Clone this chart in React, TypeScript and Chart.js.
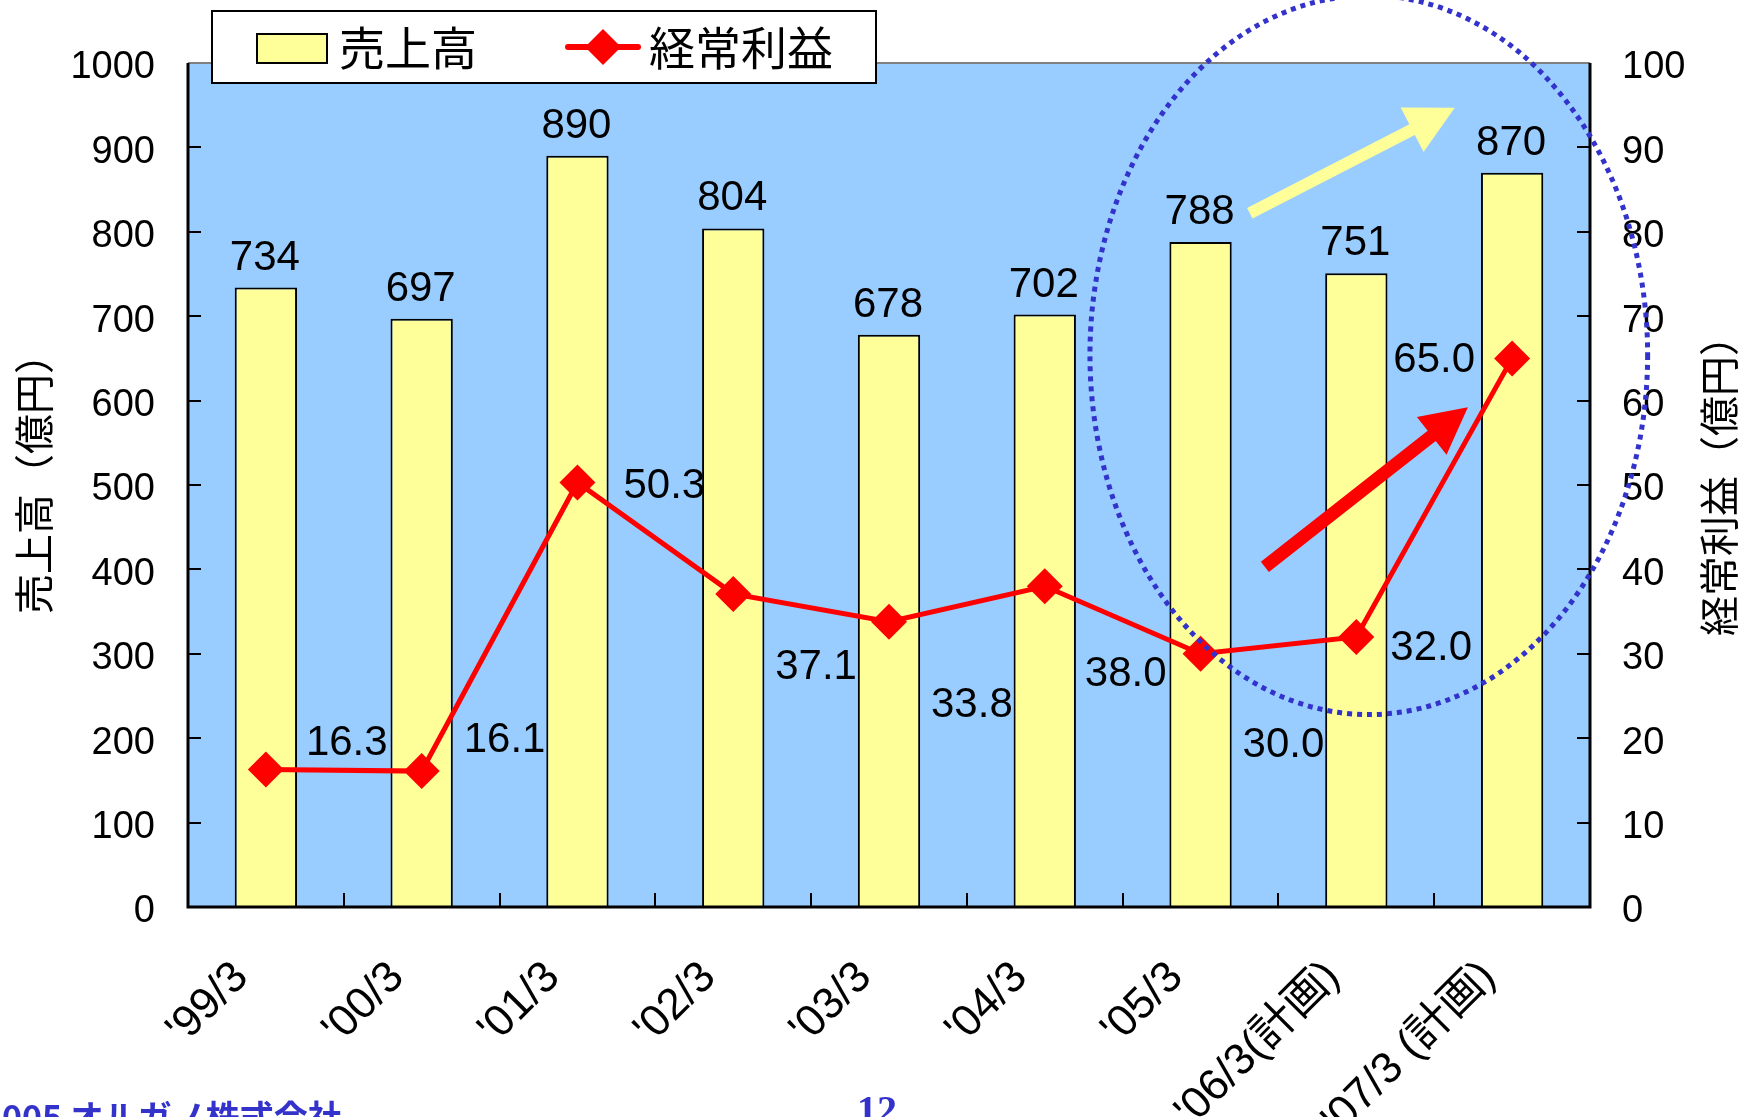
import React, { useEffect, useRef } from 'react';
import { Chart, registerables } from 'chart.js';

Chart.register(...registerables);

// ---- data ----
const categories = ["'99/3", "'00/3", "'01/3", "'02/3", "'03/3", "'04/3", "'05/3", "'06/3(計画)", "'07/3 (計画)"];
const salesValues = [734, 697, 890, 804, 678, 702, 788, 751, 870];
const profitValues = [16.3, 16.1, 50.3, 37.1, 33.8, 38.0, 30.0, 32.0, 65.0];
const salesLabel = '売上高';
const profitLabel = '経常利益';
const leftAxisTitle = '売上高（億円）';
const rightAxisTitle = '経常利益（億円）';
const leftAxisRange = [0, 1000, 100];
const rightAxisRange = [0, 100, 10];
const footerText = '©2005 オルガノ株式会社';
const pageNumber = '12';

// ---- styling / placement (not data) ----
const LATIN = "'Liberation Sans', Arial, 'Noto Sans CJK JP', sans-serif";
const CJK = "'Noto Sans CJK JP', 'Liberation Sans', sans-serif";
const PLOT_BG = '#99CCFF';
const BAR_FILL = '#FFFF99';
const LINE_RED = '#FF0000';
const ELLIPSE_BLUE = '#3333CC';
// profit label placement relative to point: [align, dx, dy]
const profitLabelPlacement: [CanvasTextAlign, number, number][] = [
  ['left', 40, -26], ['left', 42, -31], ['left', 46, 4], ['left', 42, 74], ['left', 42, 84],
  ['left', 40, 88], ['left', 42, 92], ['left', 34, 12], ['right', -37, 2],
];
// annotations in data space (x: category index, y: right-axis value)
const ellipseAnno = { cx: 7.08, cy: 65.4, rx: 1.79, ry: 42.6 };
const yellowArrow = { x0: 6.316, y0: 82.2, x1: 7.632, y1: 94.7, shaft: 12, headLen: 48, headW: 50 };
const redArrow = { x0: 6.413, y0: 40.3, x1: 7.716, y1: 59.2, shaft: 13, headLen: 46, headW: 48 };

function catPx(xs: any, idx: number) {
  const a = xs.getPixelForValue(0);
  const b = xs.getPixelForValue(1);
  return a + (b - a) * idx;
}

function drawArrow(ctx: CanvasRenderingContext2D, x0: number, y0: number, x1: number, y1: number, shaft: number, headLen: number, headW: number, color: string) {
  const dx = x1 - x0, dy = y1 - y0;
  const len = Math.hypot(dx, dy);
  const ux = dx / len, uy = dy / len;
  const nx = -uy, ny = ux;
  const bx = x1 - ux * headLen, by = y1 - uy * headLen;
  ctx.save();
  ctx.fillStyle = color;
  ctx.beginPath();
  ctx.moveTo(x0 + nx * shaft / 2, y0 + ny * shaft / 2);
  ctx.lineTo(bx + nx * shaft / 2, by + ny * shaft / 2);
  ctx.lineTo(bx + nx * headW / 2, by + ny * headW / 2);
  ctx.lineTo(x1, y1);
  ctx.lineTo(bx - nx * headW / 2, by - ny * headW / 2);
  ctx.lineTo(bx - nx * shaft / 2, by - ny * shaft / 2);
  ctx.lineTo(x0 - nx * shaft / 2, y0 - ny * shaft / 2);
  ctx.closePath();
  ctx.fill();
  ctx.restore();
}

const decorPlugin = {
  id: 'decor',
  beforeDraw(chart: any) {
    const { ctx, chartArea: a } = chart;
    ctx.save();
    ctx.fillStyle = '#ffffff';
    ctx.fillRect(0, 0, chart.width, chart.height);
    ctx.fillStyle = PLOT_BG;
    ctx.fillRect(a.left, a.top, a.right - a.left, a.bottom - a.top);
    ctx.restore();
  },
  afterDatasetsDraw(chart: any) {
    const { ctx, chartArea: a, scales } = chart;
    const xs = scales.x, yl = scales.y, yr = scales.y1;
    ctx.save();
    // inward ticks
    ctx.strokeStyle = '#000';
    ctx.lineWidth = 2;
    ctx.beginPath();
    for (let v = leftAxisRange[0]; v <= leftAxisRange[1]; v += leftAxisRange[2]) {
      const y = Math.round(yl.getPixelForValue(v));
      ctx.moveTo(a.left, y); ctx.lineTo(a.left + 13, y);
    }
    for (let v = rightAxisRange[0]; v <= rightAxisRange[1]; v += rightAxisRange[2]) {
      const y = Math.round(yr.getPixelForValue(v));
      ctx.moveTo(a.right, y); ctx.lineTo(a.right - 13, y);
    }
    for (let i = 1; i < categories.length; i++) {
      const x = Math.round(catPx(xs, i - 0.5));
      ctx.moveTo(x, a.bottom); ctx.lineTo(x, a.bottom - 14);
    }
    ctx.stroke();
    // borders
    ctx.strokeStyle = '#808080';
    ctx.beginPath();
    ctx.moveTo(a.left, a.top); ctx.lineTo(a.right, a.top);
    ctx.stroke();
    ctx.strokeStyle = '#000';
    ctx.lineWidth = 3;
    ctx.beginPath();
    ctx.moveTo(a.left, a.top); ctx.lineTo(a.left, a.bottom); ctx.lineTo(a.right, a.bottom); ctx.lineTo(a.right, a.top);
    ctx.stroke();

    // value labels
    ctx.fillStyle = '#000';
    ctx.font = `42px ${LATIN}`;
    ctx.textBaseline = 'alphabetic';
    ctx.textAlign = 'center';
    const barMeta = chart.getDatasetMeta(0);
    barMeta.data.forEach((el: any, i: number) => {
      ctx.fillText(String(salesValues[i]), el.x - 1, el.y - 18);
    });
    const lineMeta = chart.getDatasetMeta(1);
    ctx.textBaseline = 'middle';
    lineMeta.data.forEach((el: any, i: number) => {
      const [al, dx, dy] = profitLabelPlacement[i];
      ctx.textAlign = al;
      ctx.fillText(profitValues[i].toFixed(1), el.x + dx, el.y + dy);
    });
    ctx.restore();
  },
  afterDraw(chart: any) {
    const { ctx, chartArea: a, scales } = chart;
    const xs = scales.x, yl = scales.y, yr = scales.y1;
    ctx.save();
    ctx.fillStyle = '#000';

    // y tick labels
    ctx.font = `38px ${LATIN}`;
    ctx.textBaseline = 'middle';
    ctx.textAlign = 'right';
    for (let v = leftAxisRange[0]; v <= leftAxisRange[1]; v += leftAxisRange[2]) {
      ctx.fillText(String(v), a.left - 33, yl.getPixelForValue(v) + 5);
    }
    ctx.textAlign = 'left';
    for (let v = rightAxisRange[0]; v <= rightAxisRange[1]; v += rightAxisRange[2]) {
      ctx.fillText(String(v), a.right + 32, yr.getPixelForValue(v) + 5);
    }
    // x tick labels (rotated 45deg), visible ink end anchored near the tick
    ctx.font = `44px ${LATIN}`;
    ctx.textAlign = 'right';
    ctx.textBaseline = 'middle';
    categories.forEach((c, i) => {
      const x = catPx(xs, i);
      const m = ctx.measureText(c);
      ctx.save();
      ctx.translate(x - 24, a.bottom + 63);
      ctx.rotate(-Math.PI / 4);
      ctx.fillText(c, -m.actualBoundingBoxRight - 2, 0);
      ctx.restore();
    });

    // axis titles
    ctx.font = `40px ${CJK}`;
    ctx.textAlign = 'center';
    ctx.textBaseline = 'middle';
    const midY = (a.top + a.bottom) / 2;
    ctx.save();
    ctx.translate(34, midY - 11);
    ctx.rotate(-Math.PI / 2);
    ctx.fillText(leftAxisTitle, 0, 0);
    ctx.restore();
    ctx.save();
    ctx.translate(1719, midY - 9);
    ctx.rotate(-Math.PI / 2);
    ctx.fillText(rightAxisTitle, 0, 0);
    ctx.restore();

    // annotations
    const ex = catPx(xs, ellipseAnno.cx);
    const ey = yr.getPixelForValue(ellipseAnno.cy);
    const erx = catPx(xs, ellipseAnno.rx) - catPx(xs, 0);
    const ery = yr.getPixelForValue(0) - yr.getPixelForValue(ellipseAnno.ry);
    drawArrow(ctx, catPx(xs, yellowArrow.x0), yr.getPixelForValue(yellowArrow.y0), catPx(xs, yellowArrow.x1), yr.getPixelForValue(yellowArrow.y1), yellowArrow.shaft, yellowArrow.headLen, yellowArrow.headW, BAR_FILL);
    drawArrow(ctx, catPx(xs, redArrow.x0), yr.getPixelForValue(redArrow.y0), catPx(xs, redArrow.x1), yr.getPixelForValue(redArrow.y1), redArrow.shaft, redArrow.headLen, redArrow.headW, LINE_RED);
    ctx.strokeStyle = ELLIPSE_BLUE;
    ctx.lineWidth = 5;
    ctx.setLineDash([5, 5]);
    ctx.beginPath();
    ctx.ellipse(ex, ey, erx, ery, 0, 0, Math.PI * 2);
    ctx.stroke();
    ctx.setLineDash([]);

    // legend
    const ds = chart.data.datasets;
    ctx.fillStyle = '#fff';
    ctx.fillRect(212, 11, 664, 72);
    ctx.strokeStyle = '#000';
    ctx.lineWidth = 2;
    ctx.strokeRect(212, 11, 664, 72);
    ctx.fillStyle = BAR_FILL;
    ctx.fillRect(257, 34, 70, 29);
    ctx.strokeRect(257, 34, 70, 29);
    ctx.strokeStyle = LINE_RED;
    ctx.lineWidth = 6;
    ctx.lineCap = 'round';
    ctx.beginPath();
    ctx.moveTo(568, 47); ctx.lineTo(638, 47);
    ctx.stroke();
    ctx.fillStyle = LINE_RED;
    ctx.beginPath();
    ctx.moveTo(603 - 18, 47); ctx.lineTo(603, 29); ctx.lineTo(603 + 18, 47); ctx.lineTo(603, 65);
    ctx.closePath();
    ctx.fill();
    ctx.fillStyle = '#000';
    ctx.font = `46px ${CJK}`;
    ctx.textAlign = 'left';
    ctx.textBaseline = 'middle';
    ctx.fillText(ds[0].label, 339, 48);
    ctx.fillText(ds[1].label, 649, 48);

    // footer
    ctx.fillStyle = '#3333CC';
    ctx.font = `bold 34px ${CJK}`;
    ctx.textAlign = 'left';
    ctx.textBaseline = 'alphabetic';
    ctx.fillText(footerText, -47, 1130);
    ctx.font = `bold 40px 'Liberation Serif', serif`;
    ctx.textAlign = 'center';
    ctx.fillText(pageNumber, 877, 1123);
    ctx.restore();
  },
};

export default function App() {
  const ref = useRef<HTMLCanvasElement | null>(null);
  useEffect(() => {
    if (!ref.current) return;
    const chart = new Chart(ref.current, {
      type: 'bar',
      data: {
        labels: categories,
        datasets: [
          {
            type: 'bar',
            label: salesLabel,
            data: salesValues,
            backgroundColor: BAR_FILL,
            borderColor: '#000',
            borderWidth: 2,
            barPercentage: 0.4,
            categoryPercentage: 1,
            yAxisID: 'y',
            order: 1,
          },
          {
            type: 'line',
            label: profitLabel,
            data: profitValues,
            borderColor: LINE_RED,
            borderWidth: 5,
            backgroundColor: LINE_RED,
            pointStyle: 'rectRot',
            pointRadius: 18,
            pointBackgroundColor: LINE_RED,
            pointBorderColor: LINE_RED,
            pointBorderWidth: 0,
            tension: 0,
            yAxisID: 'y1',
            order: 0,
          } as any,
        ],
      },
      options: {
        responsive: false,
        animation: false,
        devicePixelRatio: 1,
        layout: { padding: { top: 63, left: 0, right: 0, bottom: 0 } },
        plugins: { legend: { display: false }, tooltip: { enabled: false } },
        scales: {
          x: {
            type: 'category',
            offset: true,
            grid: { display: false, drawTicks: false },
            border: { display: false },
            ticks: { display: false },
            afterFit: (s: any) => { s.height = 210; },
          },
          y: {
            position: 'left',
            min: leftAxisRange[0],
            max: leftAxisRange[1],
            grid: { display: false, drawTicks: false },
            border: { display: false },
            ticks: { display: false, stepSize: leftAxisRange[2] },
            afterFit: (s: any) => { s.width = 188; },
          },
          y1: {
            position: 'right',
            min: rightAxisRange[0],
            max: rightAxisRange[1],
            grid: { display: false, drawTicks: false },
            border: { display: false },
            ticks: { display: false, stepSize: rightAxisRange[2] },
            afterFit: (s: any) => { s.width = 167; },
          },
        },
      },
      plugins: [decorPlugin],
    });
    return () => chart.destroy();
  }, []);
  return (
    <div style={{ position: 'absolute', left: 0, top: 0, width: 1757, height: 1117, overflow: 'hidden', background: '#fff' }}>
      <canvas ref={ref} width={1757} height={1117} style={{ display: 'block' }} />
    </div>
  );
}
